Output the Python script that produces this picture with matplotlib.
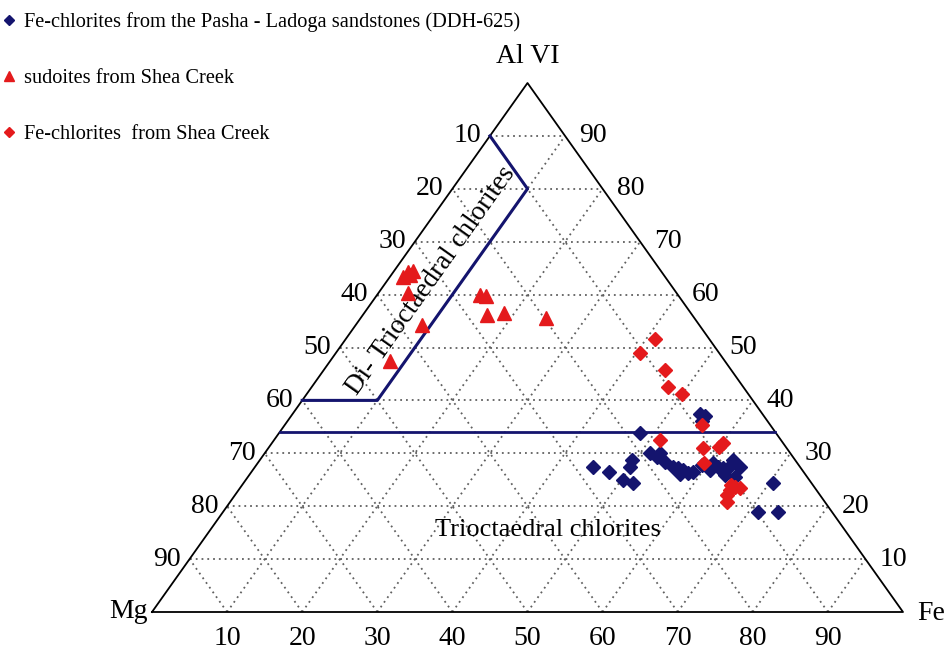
import numpy as np
import matplotlib
matplotlib.use("Agg")
import matplotlib.pyplot as plt
from matplotlib.lines import Line2D

plt.rcParams['font.family'] = ['Liberation Serif', 'DejaVu Serif']

# ---------------- data (ternary percentages: Al VI, Fe; Mg = 100 - Al - Fe) -------------
pasha_al = [37.4, 37.1, 36.1, 33.8, 27.4, 26.5, 25.0, 24.4, 27.4, 28.7, 30.1, 29.3, 30.1,
            28.4, 27.4, 27.2, 26.8, 26.3, 26.5, 26.1, 27.8, 28.2, 27.4, 27.2, 27.2, 28.7,
            27.4, 25.5, 24.4, 18.9, 18.9, 26.8, 25.9]
pasha_fe = [54.3, 55.1, 55.2, 48.1, 45.0, 47.6, 50.2, 51.9, 49.9, 49.6, 51.3, 52.6, 52.6,
            54.1, 55.7, 56.4, 57.3, 58.2, 58.8, 57.3, 59.3, 60.6, 61.7, 62.4, 63.1, 63.0,
            64.6, 64.9, 70.5, 71.2, 73.9, 60.9, 63.3]

sudoite_al = [63.3, 64.3, 64.5, 63.7, 60.3, 54.3, 47.4, 59.9, 59.7, 56.1, 56.5, 55.6]
sudoite_fe = [1.8, 1.9, 2.5, 2.5, 3.9, 8.8, 8.0, 13.7, 14.6, 16.6, 18.6, 24.7]

shea_al = [51.6, 49.0, 45.7, 42.5, 41.2, 35.3, 32.5, 31.0, 31.2, 31.9, 28.2, 23.6, 23.4,
           23.1, 22.1, 20.8, 24.0]
shea_fe = [41.2, 40.5, 45.4, 47.4, 50.0, 55.6, 51.4, 57.9, 59.9, 60.1, 59.4, 65.8, 66.6,
           65.4, 65.5, 66.2, 65.1]

# field boundaries (Al, Fe)
di_tri_al = [90, 80, 40, 40]
di_tri_fe = [0, 10, 10, 0]
tri_limit_al = 34

ticks = [10, 20, 30, 40, 50, 60, 70, 80, 90]
labels = ["Fe-chlorites from the Pasha - Ladoga sandstones (DDH-625)",
          "sudoites from Shea Creek",
          "Fe-chlorites  from Shea Creek"]

NAVY = '#14146e'
RED = '#e41a1c'
GRID = '#606060'


def tern(al, fe):
    al = np.asarray(al, float) / 100.0
    fe = np.asarray(fe, float) / 100.0
    return fe + al / 2.0, al


W, H = 949, 652
fig = plt.figure(figsize=(W / 100, H / 100), dpi=100)
x0, x1, yb, yt = 152, 903, 612, 83
ax = fig.add_axes([x0 / W, (H - yb) / H, (x1 - x0) / W, (yb - yt) / H])
ax.set_xlim(0, 1)
ax.set_ylim(0, 1)
ax.axis('off')

# grid
gkw = dict(color=GRID, lw=1.3, ls=(0, (1, 2.2)), zorder=1)
for t in ticks:
    xs, ys = tern([t, t], [0, 100 - t])
    ax.plot(xs, ys, **gkw)
    xs, ys = tern([0, 100 - t], [t, t])
    ax.plot(xs, ys, **gkw)
    xs, ys = tern([0, 100 - t], [100 - t, 0])
    ax.plot(xs, ys, **gkw)

# triangle
xs, ys = tern([0, 0, 100, 0], [0, 100, 0, 0])
ax.plot(xs, ys, color='black', lw=1.3, zorder=3, clip_on=False)

# field boundaries
xs, ys = tern(di_tri_al, di_tri_fe)
ax.plot(xs, ys, color=NAVY, lw=2.2, zorder=4, clip_on=False)
xs, ys = tern([tri_limit_al, tri_limit_al], [0, 100 - tri_limit_al])
ax.plot(xs, ys, color=NAVY, lw=2.0, zorder=4, clip_on=False)

# data
mk = dict(ls='none', zorder=6, clip_on=False)
xs, ys = tern(pasha_al, pasha_fe)
ax.plot(xs, ys, marker='D', ms=7.5, color=NAVY, mec=NAVY, **mk)
xs, ys = tern(shea_al, shea_fe)
ax.plot(xs, ys, marker='D', ms=7.5, color=RED, mec=RED, **mk)
xs, ys = tern(sudoite_al, sudoite_fe)
ax.plot(xs, ys, marker='^', ms=9.5, color=RED, mec=RED, **mk)

# tick labels
fs = 20
for t in ticks:
    xs, ys = tern(100 - t, 0)
    ax.annotate(str(t), (xs, ys), xytext=(-9, 0), textcoords='offset pixels',
                ha='right', va='center', fontsize=fs)
    xs, ys = tern(t, 100 - t)
    ax.annotate(str(t), (xs, ys), xytext=(14, 0), textcoords='offset pixels',
                ha='left', va='center', fontsize=fs)
    xs, ys = tern(0, t)
    ax.annotate(str(t), (xs, ys), xytext=(0, -14), textcoords='offset pixels',
                ha='center', va='top', fontsize=fs)

# vertex labels
xs, ys = tern(100, 0)
ax.annotate("Al VI", (xs, ys), xytext=(0, 14), textcoords='offset pixels',
            ha='center', va='bottom', fontsize=fs)
xs, ys = tern(0, 0)
ax.annotate("Mg", (xs, ys), xytext=(-4, 0), textcoords='offset pixels',
            ha='right', va='center', fontsize=fs)
xs, ys = tern(0, 100)
ax.annotate("Fe", (xs, ys), xytext=(14, -2), textcoords='offset pixels',
            ha='left', va='center', fontsize=fs)

# field names
xs, ys = tern(15.5, 45)
ax.text(xs, ys, "Trioctaedral chlorites", ha='center', va='center', fontsize=19,
        zorder=5)
xs, ys = tern(62.6, 5.9)
ang = np.degrees(np.arctan2(yb - yt, (x1 - x0) / 2))
ax.text(xs, ys, "Di- Trioctaedral chlorites", ha='center', va='center', fontsize=19.5,
        rotation=ang, rotation_mode='anchor', zorder=5)

# legend
handles = [Line2D([], [], marker='D', ls='none', color=NAVY, ms=5),
           Line2D([], [], marker='^', ls='none', color=RED, ms=6.5),
           Line2D([], [], marker='D', ls='none', color=RED, ms=5)]
fig.legend(handles, labels, loc='upper left', bbox_to_anchor=(3 / W, 1 - 12 / H),
           frameon=False, fontsize=14.7, handlelength=0.6, handletextpad=0.45,
           labelspacing=1.8, borderpad=0, borderaxespad=0)

fig.savefig("out.png", dpi=100)
